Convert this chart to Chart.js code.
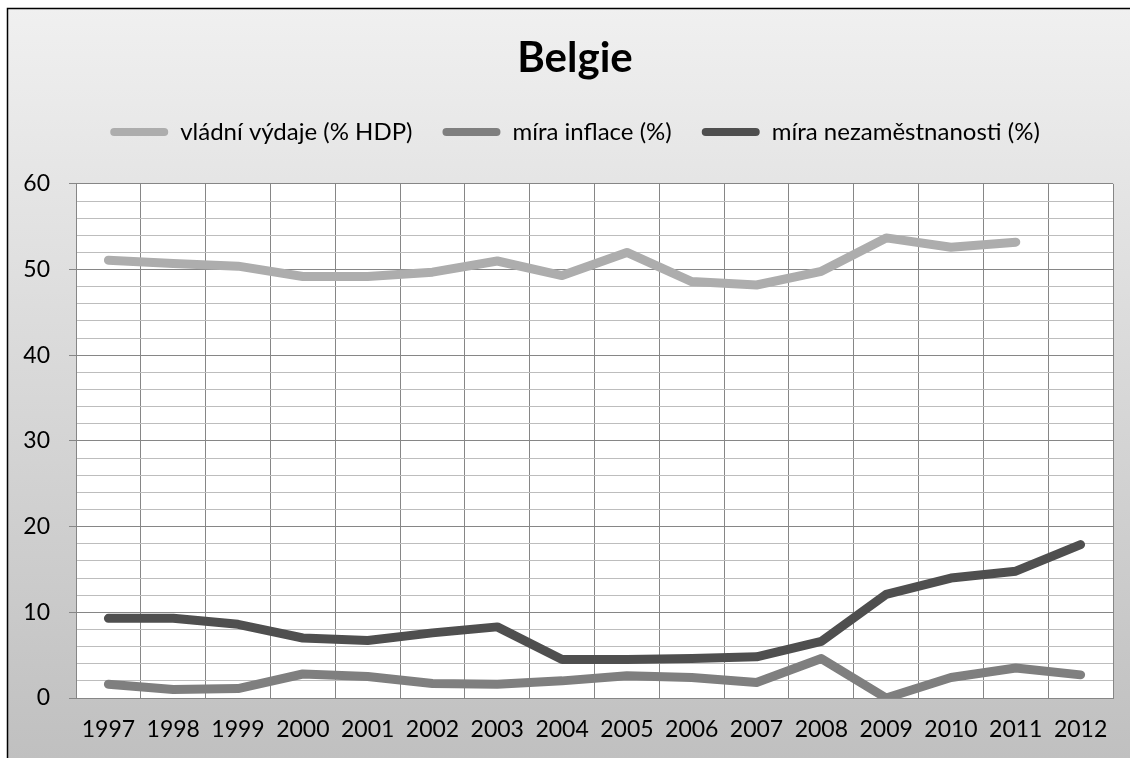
<!DOCTYPE html>
<html>
<head>
<meta charset="utf-8">
<script src="https://cdn.jsdelivr.net/npm/chart.js@4/dist/chart.umd.min.js"></script>
<style>
  body { margin: 0; background: #fff; }
  canvas { display: block; }
</style>
</head>
<body>
<canvas id="myChart" width="1130" height="758"></canvas>
<script>
// data
const years = ['1997', '1998', '1999', '2000', '2001', '2002', '2003', '2004',
               '2005', '2006', '2007', '2008', '2009', '2010', '2011', '2012'];
const vydaje = [51.1, 50.7, 50.4, 49.2, 49.2, 49.7, 51.0, 49.3, 52.0, 48.6, 48.2, 49.8, 53.7, 52.6, 53.2, null];
const inflace = [1.6, 1.0, 1.1, 2.8, 2.5, 1.7, 1.6, 2.0, 2.6, 2.4, 1.8, 4.6, 0.0, 2.4, 3.5, 2.7];
const nezamestnanost = [9.3, 9.3, 8.6, 7.0, 6.7, 7.6, 8.3, 4.5, 4.5, 4.6, 4.8, 6.6, 12.1, 14.0, 14.8, 17.9];
const seriesNames = ['vládní výdaje (% HDP)', 'míra inflace (%)', 'míra nezaměstnanosti (%)'];
const seriesColors = ['#adadad', '#7f7f7f', '#4f4f4f'];

const FONT = 'Lato, "Open Sans", sans-serif';

// grey gradient frame + white plot area
const frame = {
  id: 'frame',
  beforeDraw(chart) {
    const ctx = chart.ctx;
    const a = chart.chartArea;
    ctx.save();
    ctx.fillStyle = '#fff';
    ctx.fillRect(0, 0, chart.width, chart.height);
    const g = ctx.createLinearGradient(0, 8, 0, chart.height);
    g.addColorStop(0, '#f0f0f0');
    g.addColorStop(1, '#c0c0c0');
    ctx.fillStyle = g;
    ctx.fillRect(8, 9, chart.width, chart.height);
    ctx.strokeStyle = '#000';
    ctx.lineWidth = 1.5;
    ctx.beginPath();
    ctx.moveTo(7.5, chart.height);
    ctx.lineTo(7.5, 8.5);
    ctx.lineTo(chart.width, 8.5);
    ctx.stroke();
    ctx.fillStyle = '#fff';
    ctx.fillRect(a.left, a.top, a.right - a.left, a.bottom - a.top);
    ctx.restore();
  }
};

function makeSet(i, values) {
  return {
    label: seriesNames[i],
    data: values,
    borderColor: seriesColors[i],
    backgroundColor: seriesColors[i],
    borderWidth: 9,
    borderCapStyle: 'round',
    borderJoinStyle: 'round',
    pointRadius: 0,
    pointHoverRadius: 0,
    tension: 0,
    spanGaps: false
  };
}

const ctx = document.getElementById('myChart').getContext('2d');
const myChart = new Chart(ctx, {
  type: 'line',
  data: {
    labels: years,
    datasets: [makeSet(0, vydaje), makeSet(1, inflace), makeSet(2, nezamestnanost)]
  },
  options: {
    responsive: false,
    animation: false,
    layout: { padding: { left: 20, right: 0, top: 8, bottom: 0 } },
    scales: {
      x: {
        offset: true,
        afterFit: s => { s.height = 60; },
        grid: { offset: true, color: '#868686', lineWidth: 1, drawTicks: false },
        border: { color: '#868686', width: 1 },
        ticks: { color: '#000', padding: 18, maxRotation: 0, autoSkip: false, font: { family: FONT, size: 23 } }
      },
      y: {
        min: 0,
        max: 60,
        afterFit: s => { s.width = 56; },
        grid: {
          color: c => (c.tick && c.tick.value % 10 === 0) ? '#868686' : '#bdbdbd',
          tickColor: c => (c.tick && c.tick.value % 10 === 0) ? '#868686' : 'rgba(0,0,0,0)',
          tickLength: 7,
          lineWidth: 1
        },
        border: { color: '#868686', width: 1 },
        ticks: {
          stepSize: 2,
          autoSkip: false,
          color: '#000',
          padding: 19,
          font: { family: FONT, size: 23 },
          callback: v => (v % 10 === 0 ? v : '')
        }
      },
      // empty strip to the right of the plot
      yRight: {
        position: 'right',
        display: true,
        afterFit: s => { s.width = 17; },
        grid: { display: false },
        border: { display: false },
        ticks: { display: false }
      }
    },
    plugins: {
      title: {
        display: true,
        text: 'Belgie',
        color: '#000',
        font: { family: FONT, size: 42, weight: 'bold', lineHeight: 1.2 },
        padding: { top: 25.5, bottom: 6 }
      },
      // empty spacer under the legend
      subtitle: {
        display: true,
        text: '',
        weight: 500,
        padding: 0,
        font: { size: 30, lineHeight: 1 }
      },
      legend: {
        display: true,
        position: 'top',
        labels: {
          color: '#000',
          font: { family: FONT, size: 24 },
          boxWidth: 58,
          boxHeight: 8,
          padding: 30,
          useBorderRadius: true,
          borderRadius: 4,
          generateLabels: chart => Chart.defaults.plugins.legend.labels.generateLabels(chart).map(l => {
            l.lineWidth = 0;
            l.fillStyle = seriesColors[l.datasetIndex];
            return l;
          })
        }
      },
      tooltip: { enabled: false }
    }
  },
  plugins: [frame]
});
</script>
</body>
</html>
